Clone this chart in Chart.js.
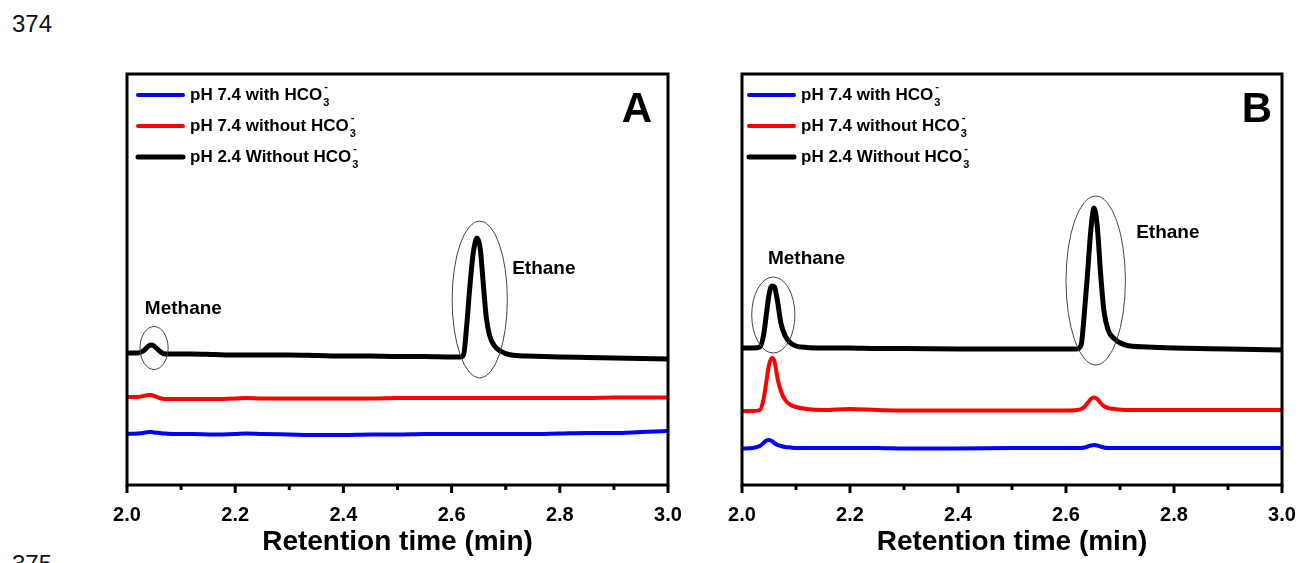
<!DOCTYPE html>
<html>
<head>
<meta charset="utf-8">
<script src="https://cdn.jsdelivr.net/npm/chart.js@4/dist/chart.umd.min.js"></script>
<style>
    body { margin: 0; background: #fff; width: 1304px; height: 563px; overflow: hidden; position: relative; }
    .painel { position: absolute; top: 0; height: 563px; }
    .pagina { position: absolute; left: 12px; font: 24px "Liberation Sans", Arial, sans-serif; color: #111; }
</style>
</head>
<body>
<div class="pagina" style="top: 10px;">374</div>
<div class="pagina" style="top: 550px;">375</div>
<div class="painel" style="left: 0; width: 700px;"><canvas id="graficoA"></canvas></div>
<div class="painel" style="left: 614px; width: 700px;"><canvas id="graficoB"></canvas></div>
<script>
const FONTE = '"Liberation Sans", Arial, sans-serif';

const legendas = ["pH 7.4 with HCO", "pH 7.4 without HCO", "pH 2.4 Without HCO"];
const cores = ["#0000ff", "#ff0000", "#000000"];
const ticksX = [2.0, 2.2, 2.4, 2.6, 2.8, 3.0];

// painel A
const tempoA = [2.00, 2.02, 2.03, 2.04, 2.045, 2.05, 2.06, 2.07, 2.09, 2.12, 2.16, 2.2, 2.22, 2.25, 2.3, 2.35, 2.4, 2.45, 2.5, 2.55,
    2.6, 2.615, 2.622, 2.628, 2.634, 2.64, 2.647, 2.653, 2.658, 2.664, 2.67, 2.678, 2.69, 2.71, 2.74, 2.8, 2.85, 2.9, 2.95, 3.0];
const azulA = [51, 51.5, 52, 53, 53, 52.5, 52, 51.5, 51, 51, 50.5, 51, 51.5, 51, 50.5, 50, 50, 50.5, 50.5, 51,
    51, 51, 51, 51, 51, 51, 51, 51, 51, 51, 51, 51, 51, 51, 51, 51.5, 52, 52, 53, 54];
const vermelhoA = [88, 88, 89, 90, 90, 89, 87, 86, 86, 86, 86, 86.5, 87, 86.5, 86.5, 86.5, 86.5, 86.5, 87, 87,
    87, 87, 87, 87, 87, 87, 87, 87, 87, 87, 87, 87, 87, 87, 87, 87, 87, 87.5, 87.5, 87.5];
const pretoA = [132, 132, 134, 139, 140, 139, 134, 131, 131, 131, 130.5, 130, 130, 130, 130, 129.5, 129, 129, 128.5, 128.5,
    128, 128, 130, 160, 200, 232, 247, 236, 205, 168, 150, 140, 134, 130, 129, 128, 127.5, 127, 126.5, 126];

// painel B
const tempoB = [2.0, 2.02, 2.033, 2.04, 2.045, 2.05, 2.055, 2.06, 2.066, 2.072, 2.08, 2.09, 2.1, 2.12, 2.15, 2.2, 2.25, 2.3, 2.4,
    2.5, 2.6, 2.62, 2.628, 2.634, 2.64, 2.646, 2.652, 2.658, 2.664, 2.67, 2.678, 2.69, 2.71, 2.75, 2.8, 2.9, 3.0];
const azulB = [36.5, 37, 39, 42, 44.5, 45, 44, 42, 40, 39, 38, 37.5, 37, 37, 37, 37, 37, 36.5, 36.5,
    37, 37, 37, 37, 37.5, 38.5, 39.5, 40, 39.5, 38.5, 37.5, 37, 37, 37, 37, 37, 37, 37];
const vermelhoB = [74, 74, 75, 86, 103, 120, 127, 124, 106, 94, 85, 80, 78, 76, 75, 76, 75, 74.5, 74.5,
    74.5, 74.5, 75, 76, 78, 82, 86, 87.5, 86, 82, 79, 77, 76, 75, 75, 75, 75, 75];
const pretoB = [137, 137, 138, 150, 170, 190, 199, 198, 183, 162, 149, 142, 139, 137.5, 137, 137, 136.5, 136.5, 136,
    136, 136, 136, 140, 172, 212, 255, 277, 258, 212, 175, 155, 146, 140, 138, 137, 136, 135];

function montarSeries(tempo, azul, vermelho, preto) {
    const series = [azul, vermelho, preto];
    return series.map((valores, i) => ({
        label: legendas[i],
        data: tempo.map((t, k) => ({ x: t, y: valores[k] })),
        borderColor: cores[i],
        borderWidth: i === 2 ? 5 : 4,
        pointRadius: 0,
        fill: false,
        cubicInterpolationMode: "monotone",
    }));
}

const decoracao = {
    id: "decoracao",
    afterDraw(chart, args, opts) {
        const ctx = chart.ctx;
        const area = chart.chartArea;
        const x = chart.scales.x;
        const y = chart.scales.y;
        ctx.save();

        // elipses
        ctx.strokeStyle = "#444";
        ctx.lineWidth = 1;
        opts.elipses.forEach((e) => {
            const cx = x.getPixelForValue(e.t);
            const cy = y.getPixelForValue(e.v);
            const rx = Math.abs(x.getPixelForValue(e.t + e.rt) - cx);
            ctx.beginPath();
            ctx.ellipse(cx, cy, rx, e.rv, 0, 0, Math.PI * 2);
            ctx.stroke();
        });

        // nomes dos picos
        ctx.fillStyle = "#000";
        ctx.font = "bold 19px " + FONTE;
        ctx.textBaseline = "middle";
        ctx.textAlign = "left";
        opts.rotulos.forEach((r) => {
            ctx.fillText(r.texto, x.getPixelForValue(r.t), y.getPixelForValue(r.v));
        });

        // moldura
        ctx.strokeStyle = "#000";
        ctx.lineWidth = 3;
        ctx.strokeRect(area.left, area.top, area.right - area.left, area.bottom - area.top);

        // ticks
        ctx.lineWidth = 3;
        for (let k = 0; k <= 10; k++) {
            const px = x.getPixelForValue(2 + k / 10);
            ctx.beginPath();
            ctx.moveTo(px, area.bottom);
            ctx.lineTo(px, area.bottom + (k % 2 === 0 ? 8 : 5));
            ctx.stroke();
        }

        // letra do painel
        ctx.font = "bold 42px " + FONTE;
        ctx.textAlign = "right";
        ctx.textBaseline = "alphabetic";
        ctx.fillText(opts.letra, area.right - opts.letraDx, area.top + 48);

        // legenda
        chart.data.datasets.forEach((ds, i) => {
            const ly = area.top + 21 + i * 31;
            ctx.strokeStyle = ds.borderColor;
            ctx.lineWidth = i === 2 ? 5 : 4;
            ctx.lineCap = "round";
            ctx.beginPath();
            ctx.moveTo(area.left + opts.legDx, ly);
            ctx.lineTo(area.left + opts.legDx + 45, ly);
            ctx.stroke();
            ctx.lineCap = "butt";
            ctx.fillStyle = "#000";
            ctx.textAlign = "left";
            ctx.textBaseline = "middle";
            ctx.font = "bold 17px " + FONTE;
            const tx = area.left + opts.legDx + 52;
            ctx.fillText(ds.label, tx, ly);
            const w = ctx.measureText(ds.label).width;
            ctx.font = "bold 11px " + FONTE;
            ctx.fillText("3", tx + w + 1, ly + 8);
            ctx.fillText("-", tx + w + 2, ly - 8);
        });
        ctx.restore();
    },
};

function criarGrafico(id, tempo, azul, vermelho, preto, extra) {
    const ctx = document.getElementById(id).getContext("2d");
    return new Chart(ctx, {
        type: "line",
        data: { datasets: montarSeries(tempo, azul, vermelho, preto) },
        options: {
            responsive: true,
            maintainAspectRatio: false,
            animation: false,
            layout: { padding: extra.padding },
            plugins: {
                legend: { display: false },
                tooltip: { enabled: false },
                decoracao: extra,
            },
            scales: {
                x: {
                    type: "linear",
                    min: 2,
                    max: 3,
                    afterBuildTicks: (scale) => { scale.ticks = ticksX.map((v) => ({ value: v })); },
                    afterFit: (scale) => { scale.height = 78; },
                    grid: { display: false },
                    border: { display: false },
                    ticks: {
                        padding: 10,
                        color: "#000",
                        font: { family: FONTE, size: 20, weight: "bold" },
                        callback: (v) => Number(v).toFixed(1),
                        maxRotation: 0,
                        autoSkip: false,
                    },
                    title: {
                        display: true,
                        text: "Retention time (min)",
                        color: "#000",
                        font: { family: FONTE, size: 28, weight: "bold" },
                        padding: { top: 0, bottom: 4 },
                    },
                },
                y: { display: false, min: 0, max: 411 },
            },
        },
        plugins: [decoracao],
    });
}

criarGrafico("graficoA", tempoA, azulA, vermelhoA, pretoA, {
    padding: { left: 127, right: 32, top: 74, bottom: 0 },
    letra: "A",
    letraDx: 16,
    legDx: 11,
    elipses: [
        { t: 2.050, v: 137, rt: 0.026, rv: 21.5 },
        { t: 2.652, v: 185.5, rt: 0.051, rv: 78.5 },
    ],
    rotulos: [
        { texto: "Methane", t: 2.033, v: 176 },
        { texto: "Ethane", t: 2.712, v: 216 },
    ],
});

criarGrafico("graficoB", tempoB, azulB, vermelhoB, pretoB, {
    padding: { left: 128, right: 32, top: 74, bottom: 0 },
    letra: "B",
    letraDx: 10,
    legDx: 7,
    elipses: [
        { t: 2.058, v: 170, rt: 0.040, rv: 38 },
        { t: 2.655, v: 204.5, rt: 0.055, rv: 84.5 },
    ],
    rotulos: [
        { texto: "Methane", t: 2.048, v: 226 },
        { texto: "Ethane", t: 2.730, v: 252 },
    ],
});
</script>
</body>
</html>
